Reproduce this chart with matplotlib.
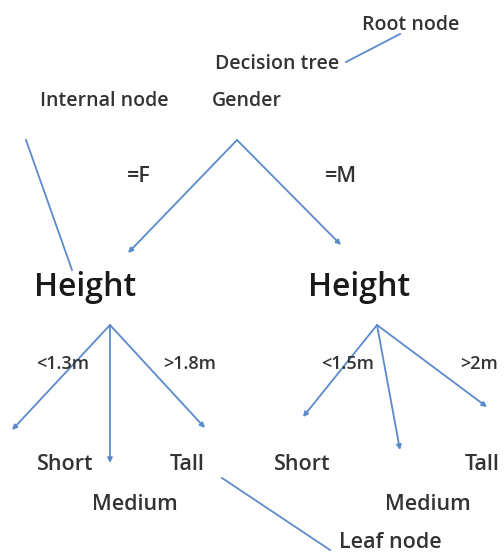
import matplotlib
matplotlib.use("Agg")
import matplotlib.pyplot as plt

# node / label texts
label_texts = ["Root node", "Decision tree", "Internal node", "Gender", "=F", "=M",
               "<1.3m", ">1.8m", "<1.5m", ">2m",
               "Short", "Tall", "Short", "Tall", "Medium", "Medium", "Leaf node"]
label_x = [411, 277, 104, 247, 139, 341, 63, 190, 348, 479, 65, 187, 302, 482, 135, 428, 390]
label_y = [25, 64, 101, 101, 177, 177, 364, 364, 364, 364, 465, 465, 465, 465, 504, 504, 543]
label_size = [14, 14, 14, 14, 15.5, 15.5, 13, 13, 13, 13, 15.5, 15.5, 15.5, 15.5, 15.5, 15.5, 15.5]

# big internal nodes
height_texts = ["Height", "Height"]
height_x = [85, 359]
height_y = [288, 288]

# arrows: (start, end) in pixel coordinates
arrow_start = [(237, 140), (237, 140),
               (110, 325), (110, 325), (110, 325),
               (377, 325), (377, 325), (377, 325)]
arrow_end = [(128, 253), (341, 245),
             (12, 430), (110, 463), (205, 428),
             (303, 417), (400, 450), (487, 407)]

# plain pointer lines
line_start = [(400, 34), (26, 140), (222, 478)]
line_end = [(346, 62), (72, 270), (330, 550)]

blue = "#5B8ACB"
grey = "#333333"

fig = plt.figure(figsize=(5.04, 5.52), dpi=100)
ax = fig.add_axes([0, 0, 1, 1])
ax.set_xlim(0, 504)
ax.set_ylim(552, 0)
ax.axis("off")

for (x0, y0), (x1, y1) in zip(line_start, line_end):
    ax.plot([x0, x1], [y0, y1], color=blue, lw=1.3)

for (x0, y0), (x1, y1) in zip(arrow_start, arrow_end):
    ax.annotate("", xy=(x1, y1), xytext=(x0, y0),
                arrowprops=dict(arrowstyle="-|>", color=blue, lw=1.3,
                                mutation_scale=7, shrinkA=0, shrinkB=0))

for t, x, y, s in zip(label_texts, label_x, label_y, label_size):
    ax.text(x, y, t, ha="center", va="center", fontsize=s, color=grey,
            family=["Open Sans", "DejaVu Sans"], fontweight="semibold")

for t, x, y in zip(height_texts, height_x, height_y):
    ax.text(x, y, t, ha="center", va="center", fontsize=23, color="#1a1a1a",
            family=["Open Sans", "DejaVu Sans"], fontweight="semibold")

fig.savefig("out.png", dpi=100)
